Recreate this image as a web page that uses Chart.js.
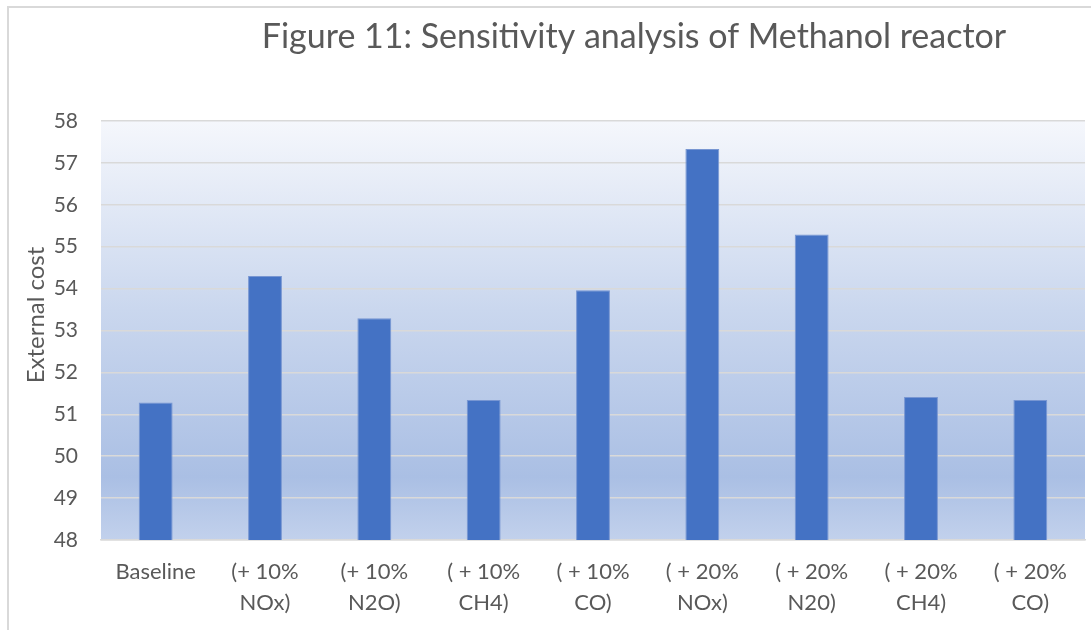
<!DOCTYPE html>
<html>
<head>
<meta charset="utf-8">
<script src="https://cdn.jsdelivr.net/npm/chart.js@4/dist/chart.umd.min.js"></script>
<style>
  html, body { margin: 0; padding: 0; background: #fff; }
  #wrap { position: relative; width: 1091px; height: 630px; overflow: hidden; }
  #frame { position: absolute; left: 7px; top: 6px; width: 1200px; height: 700px;
           border-left: 2px solid #d9d9d9; border-top: 2px solid #d9d9d9; box-sizing: border-box; }
  canvas { position: absolute; left: 0; top: 0; }
</style>
</head>
<body>
<div id="wrap">
  <div id="frame"></div>
  <canvas id="chart" width="1091" height="630"></canvas>
</div>
<script>
// Scenario labels (two lines each) and external cost per scenario
const categories = [
  ["Baseline"],
  ["(+ 10%", "NOx)"],
  ["(+ 10%", "N2O)"],
  ["( + 10%", "CH4)"],
  ["( + 10%", "CO)"],
  ["( + 20%", "NOx)"],
  ["( + 20%", "N20)"],
  ["( + 20%", "CH4)"],
  ["( + 20%", "CO)"]
];
const externalCost = [51.28, 54.30, 53.29, 51.34, 53.96, 57.33, 55.29, 51.41, 51.34];
const yTicks = [48, 49, 50, 51, 52, 53, 54, 55, 56, 57, 58];

const chartTitle = "Figure 11: Sensitivity analysis of Methanol reactor";
const yAxisTitle = "External cost";

const FONT = "Lato";
const TEXT = "#595959";

// Light blue vertical gradient behind the plot area
const plotBackground = {
  id: "plotBackground",
  beforeDraw(chart) {
    const { ctx, chartArea: a } = chart;
    const g = ctx.createLinearGradient(0, a.top, 0, a.bottom);
    g.addColorStop(0, "#f5f7fc");
    g.addColorStop(0.45, "#cad7ee");
    g.addColorStop(0.85, "#aabfe4");
    g.addColorStop(1, "#c2d1ec");
    ctx.save();
    ctx.fillStyle = g;
    ctx.fillRect(a.left, a.top, a.right - a.left, a.bottom - a.top);
    ctx.restore();
  }
};

// Chart heading and the vertical axis caption
const captions = {
  id: "captions",
  afterDraw(chart) {
    const { ctx } = chart;
    ctx.save();
    ctx.fillStyle = TEXT;
    ctx.textAlign = "center";
    ctx.textBaseline = "middle";
    ctx.font = `34px ${FONT}`;
    ctx.fillText(chartTitle, 634, 37);
    ctx.translate(36, 315);
    ctx.rotate(-Math.PI / 2);
    ctx.font = `24px ${FONT}`;
    ctx.fillText(yAxisTitle, 0, 0);
    ctx.restore();
  }
};

new Chart(document.getElementById("chart"), {
  type: "bar",
  data: {
    labels: categories,
    datasets: [{
      data: externalCost,
      backgroundColor: "#4472c4",
      borderColor: "#7896d2",
      borderWidth: 1,
      categoryPercentage: 1,
      barPercentage: 0.31
    }]
  },
  options: {
    responsive: false,
    animation: false,
    layout: { padding: { left: 0, right: 6, top: 121, bottom: 0 } },
    plugins: {
      legend: { display: false },
      tooltip: { enabled: false },
      title: { display: false }
    },
    scales: {
      x: {
        grid: { display: false, drawTicks: false },
        border: { display: true, color: "#d9d9d9", width: 1.5 },
        ticks: {
          color: TEXT,
          font: { family: FONT, size: 22, lineHeight: 1.41 },
          padding: 16,
          maxRotation: 0,
          autoSkip: false
        },
        afterFit(scale) { scale.height = 90; }
      },
      y: {
        min: 48,
        max: 58,
        afterBuildTicks(scale) { scale.ticks = yTicks.map(v => ({ value: v })); },
        grid: { color: "#d9d9d9", lineWidth: 1.5, drawTicks: false },
        border: { display: false },
        ticks: {
          color: TEXT,
          font: { family: FONT, size: 21 },
          padding: 23
        },
        afterFit(scale) { scale.width = 101; }
      }
    }
  },
  plugins: [plotBackground, captions]
});
</script>
</body>
</html>
